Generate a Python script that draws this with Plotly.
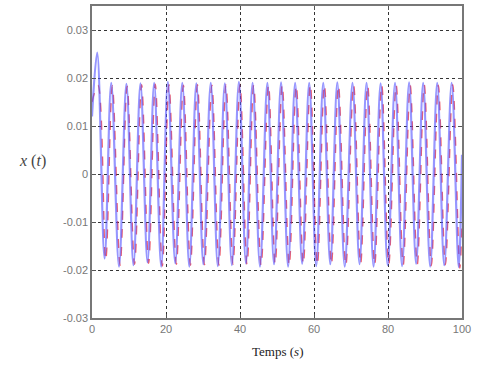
import plotly.graph_objects as go

# Extremum points (time in s, value)
blue_t = [0.0, 1.4, 3.4, 5.2, 7.3, 9.3, 11.2, 13.1, 15.0, 16.8, 18.7, 20.5, 22.5, 24.4, 26.3,
          28.2, 30.1, 32.1, 34.0, 35.9, 37.8, 39.7, 41.6, 43.4, 45.4, 47.4, 49.2, 51.1, 53.0,
          54.9, 56.8, 58.7, 60.6, 62.5, 64.4, 66.3, 68.3, 70.4, 72.3, 74.2, 76.1, 78.0, 79.9,
          81.9, 83.8, 85.7, 87.6, 89.5, 91.4, 93.3, 95.2, 97.2, 99.1, 100.0]
blue_x = [0.012, 0.0253, -0.0176, 0.0190, -0.0193, 0.0188, -0.0190, 0.0189, -0.0184, 0.0190,
          -0.0193, 0.0192, -0.0186, 0.0190, -0.0193, 0.0189, -0.0188, 0.0190, -0.0192, 0.0189,
          -0.0190, 0.0192, -0.0186, 0.0190, -0.0193, 0.0190, -0.0188, 0.0191, -0.0193, 0.0190,
          -0.0187, 0.0190, -0.0192, 0.0190, -0.0188, 0.0191, -0.0193, 0.0190, -0.0188, 0.0190,
          -0.0193, 0.0189, -0.0190, 0.0190, -0.0192, 0.0191, -0.0187, 0.0190, -0.0193, 0.0190,
          -0.0190, 0.0190, -0.0194, 0.004]

red_t = [0.0, 1.6, 3.7, 5.5, 7.6, 9.5, 11.5, 13.4, 15.3, 17.1, 19.0, 20.8, 22.8, 24.7, 26.6,
         28.5, 30.4, 32.4, 34.3, 36.2, 38.1, 40.0, 41.9, 43.7, 45.7, 47.7, 49.5, 51.4, 53.3,
         55.2, 57.1, 59.0, 60.9, 62.8, 64.7, 66.6, 68.6, 70.7, 72.6, 74.5, 76.4, 78.3, 80.2,
         82.2, 84.1, 86.0, 87.9, 89.8, 91.7, 93.6, 95.5, 97.5, 99.4, 100.0]
red_x = [0.015, 0.0185, -0.0180, 0.0184, -0.0190, 0.0183, -0.0188, 0.0186, -0.0186, 0.0187,
         -0.0192, 0.0186, -0.0188, 0.0185, -0.0190, 0.0186, -0.0189, 0.0185, -0.0190, 0.0186,
         -0.0188, 0.0187, -0.0189, 0.0185, -0.0191, 0.0186, -0.0188, 0.0186, -0.0191, 0.0185,
         -0.0188, 0.0187, -0.0190, 0.0186, -0.0189, 0.0185, -0.0191, 0.0186, -0.0188, 0.0185,
         -0.0190, 0.0186, -0.0189, 0.0186, -0.0190, 0.0185, -0.0189, 0.0186, -0.0191, 0.0185,
         -0.0189, 0.0186, -0.0196, -0.010]

x_ticks = [0, 20, 40, 60, 80, 100]
y_ticks = [-0.03, -0.02, -0.01, 0, 0.01, 0.02, 0.03]
y_tick_labels = ["-0.03", "-0.02", "-0.01", "0", "0.01", "0.02", "0.03"]

fig = go.Figure()
fig.add_trace(go.Scatter(x=red_t, y=red_x, mode="lines",
                         line=dict(color="rgba(230,30,50,0.7)", width=1.4, dash="dash",
                                   shape="spline", smoothing=1.0),
                         showlegend=False))
fig.add_trace(go.Scatter(x=blue_t, y=blue_x, mode="lines",
                         line=dict(color="rgba(80,80,255,0.6)", width=2.2, shape="spline", smoothing=1.0),
                         showlegend=False))

axis_common = dict(showline=True, mirror="ticks", linecolor="#777", linewidth=1.5,
                   ticks="inside", ticklen=4, tickcolor="#555",
                   showgrid=True, gridcolor="#333", griddash="dot", gridwidth=1,
                   zeroline=False,
                   tickfont=dict(family="Liberation Sans, Arial", size=11, color="#777"))

fig.update_xaxes(range=[0, 100], tickvals=x_ticks, **axis_common)
fig.update_yaxes(range=[-0.03, 0.035], tickvals=y_ticks, ticktext=y_tick_labels, **axis_common)

fig.add_annotation(text="Temps (<i>s</i>)", x=0.5, y=-0.108, xref="paper", yref="paper",
                   xanchor="center", yanchor="middle", showarrow=False,
                   font=dict(family="Liberation Serif, Times New Roman", size=13, color="#222"))
fig.add_annotation(text="<i>x</i> (<i>t</i>)", x=-0.16, y=0.503, xref="paper", yref="paper",
                   xanchor="center", yanchor="middle", showarrow=False,
                   font=dict(family="Liberation Serif, Times New Roman", size=16, color="#444"))

fig.update_layout(width=480, height=369, margin=dict(l=92, r=18, t=4, b=51),
                  paper_bgcolor="white", plot_bgcolor="white")

fig.write_html("out.html", config={"displayModeBar": False},
               post_script="document.body.style.margin='0px';")
